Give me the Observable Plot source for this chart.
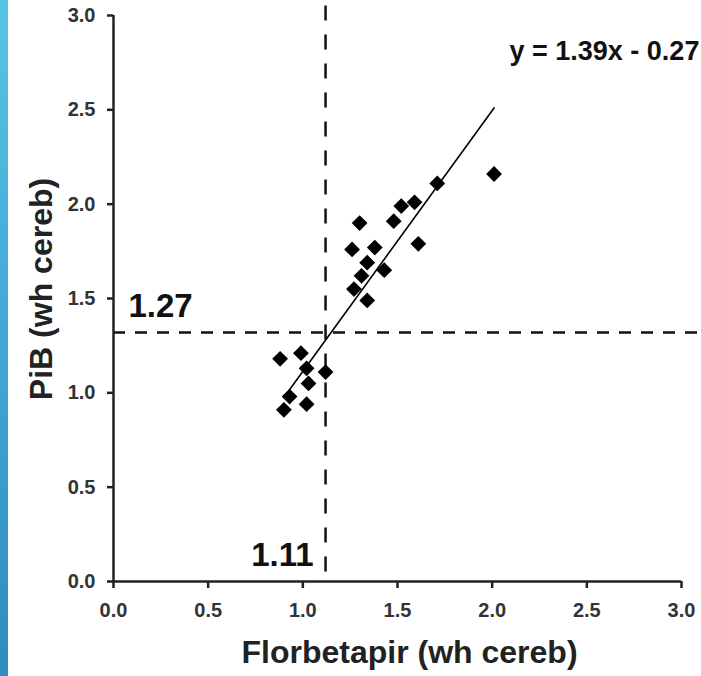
<!DOCTYPE html>
<html>
<head>
<meta charset="utf-8">
<script src="https://cdn.jsdelivr.net/npm/d3@7"></script>
<script src="https://cdn.jsdelivr.net/npm/@observablehq/plot@0.6"></script>
<style>
  body { margin: 0; background: #fff; }
  #wrap { position: relative; width: 701px; height: 676px; overflow: hidden; background: #fff; }
  #strip { position: absolute; left: 0; top: 0; width: 8px; height: 676px; background: linear-gradient(#56c4e7, #2e8cc0); }
  #chart { position: absolute; left: 0; top: 0; }
</style>
</head>
<body>
<div id="wrap"><div id="strip"></div><div id="chart"></div></div>
<script>
// Data
const florbetapir = [2.01, 1.71, 1.59, 1.52, 1.48, 1.30, 1.26, 1.38, 1.61, 1.34, 1.43, 1.31, 1.27, 1.34, 0.88, 0.99, 1.02, 1.12, 1.03, 0.93, 1.02, 0.90];
const pib         = [2.16, 2.11, 2.01, 1.99, 1.91, 1.90, 1.76, 1.77, 1.79, 1.69, 1.65, 1.62, 1.55, 1.49, 1.18, 1.21, 1.13, 1.11, 1.05, 0.98, 0.94, 0.91];
const xTicks = [0, 0.5, 1.0, 1.5, 2.0, 2.5, 3.0];
const yTicks = [0, 0.5, 1.0, 1.5, 2.0, 2.5, 3.0];
const fitX = [0.90, 2.01];
const fitY = [0.975, 2.51];
const cutX = 1.12;
const cutY = 1.32;
const cutXLabel = "1.11";
const cutYLabel = "1.27";
const equation = "y = 1.39x - 0.27";
const xLabel = "Florbetapir (wh cereb)";
const yLabel = "PiB (wh cereb)";

const points = florbetapir.map((x, i) => ({x, y: pib[i]}));
const fit = fitX.map((x, i) => ({x, y: fitY[i]}));

const diamond = {
  draw(context, size) {
    const h = Math.sqrt(size / 2);
    context.moveTo(0, -h);
    context.lineTo(h, 0);
    context.lineTo(0, h);
    context.lineTo(-h, 0);
    context.closePath();
  }
};

const font = "'Liberation Sans', Arial, Helvetica, sans-serif";
const fmt = d3.format(".1f");

const chart = Plot.plot({
  width: 701,
  height: 676,
  marginLeft: 113,
  marginRight: 20,
  marginTop: 15,
  marginBottom: 95,
  style: { fontFamily: font, background: "transparent" },
  x: { domain: [0, 3] },
  y: { domain: [0, 3] },
  marks: [
    Plot.ruleY([cutY], { x1: 0, x2: 3.12, stroke: "#111", strokeWidth: 2.5, strokeDasharray: "12,10", clip: false }),
    Plot.ruleX([cutX], { y1: 3.05, y2: 0, stroke: "#111", strokeWidth: 2.5, strokeDasharray: "15,14", clip: false }),
    Plot.line(fit, { x: "x", y: "y", stroke: "#000", strokeWidth: 1.6 }),
    Plot.dot(points, { x: "x", y: "y", symbol: diamond, r: 6.3, fill: "#000", stroke: "none" }),
    Plot.ruleX([0], { y1: 0, y2: 3, stroke: "#222", strokeWidth: 2.5 }),
    Plot.ruleY([0], { x1: 0, x2: 3, stroke: "#222", strokeWidth: 2.5 }),
    Plot.axisX(xTicks, { tickFormat: fmt, tickSize: 7, tickPadding: 14, fontSize: 20, fontWeight: "bold", fill: "#333", stroke: "#222", strokeWidth: 2.5, label: null }),
    Plot.axisY(yTicks, { tickFormat: fmt, tickSize: 6, tickPadding: 12, fontSize: 20, fontWeight: "bold", fill: "#333", stroke: "#222", strokeWidth: 2.5, label: null }),
    Plot.text([cutYLabel], { text: d => d, x: 0, y: cutY, dx: 15, dy: -15, textAnchor: "start", lineAnchor: "bottom", fontSize: 33, fontWeight: "bold", fill: "#111" }),
    Plot.text([cutXLabel], { text: d => d, x: cutX, y: 0, dx: -12, dy: -16, textAnchor: "end", lineAnchor: "bottom", fontSize: 33, fontWeight: "bold", fill: "#111" }),
    Plot.text([equation], { text: d => d, frameAnchor: "top-left", dx: 396, dy: 44, textAnchor: "start", lineAnchor: "bottom", fontSize: 27, fontWeight: "bold", fill: "#111" }),
    Plot.text([xLabel], { text: d => d, frameAnchor: "bottom", dx: 12, dy: 81, textAnchor: "middle", lineAnchor: "bottom", fontSize: 32, fontWeight: "bold", fill: "#222" }),
    Plot.text([yLabel], { text: d => d, frameAnchor: "left", dx: -62, dy: -9.5, rotate: -90, textAnchor: "middle", lineAnchor: "bottom", fontSize: 32, fontWeight: "bold", fill: "#222" })
  ]
});
document.getElementById("chart").appendChild(chart);
</script>
</body>
</html>
